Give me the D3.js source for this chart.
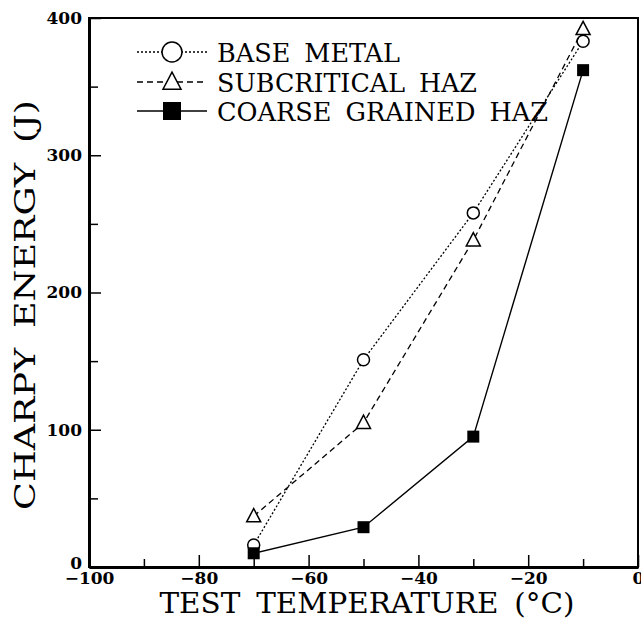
<html>
<head>
<script src="https://d3js.org/d3.v7.min.js"></script>
<style>
  body { margin: 0; background: #fff; }
  text { font-family: "DejaVu Serif", "Liberation Serif", serif; fill: #000; }
</style>
</head>
<body>
<div id="chart"></div>
<script>
// data
const temps = [-70, -50, -30, -10];
const baseMetal = [16, 151, 258, 383];
const subcritical = [37, 105, 238, 392];
const coarseGrained = [10, 29, 95, 362];

const seriesNames = ["BASE METAL", "SUBCRITICAL HAZ", "COARSE GRAINED HAZ"];
const xTicks = [-100, -80, -60, -40, -20, 0];
const xMinor = [-90, -70, -50, -30, -10];
const yTicks = [0, 100, 200, 300, 400];
const yMinor = [50, 150, 250, 350];

const W = 641, H = 620;
const plotLeft = 89, plotRight = 638, plotTop = 18, plotBottom = 567;

const svg = d3.select("#chart").append("svg")
  .attr("width", W).attr("height", H);

const x = d3.scaleLinear().domain([-100, 0]).range([plotLeft, plotRight]);
const y = d3.scaleLinear().domain([0, 400]).range([plotBottom, plotTop]);

// frame
svg.append("rect")
  .attr("x", plotLeft).attr("y", plotTop)
  .attr("width", plotRight - plotLeft).attr("height", plotBottom - plotTop)
  .attr("fill", "none").attr("stroke", "#000").attr("stroke-width", 2);

// x axis, ticks pointing inward
const xAxis = svg.append("g").attr("transform", `translate(0,${plotBottom})`)
  .call(d3.axisBottom(x).tickValues(xTicks).tickSizeInner(-12).tickSizeOuter(0)
    .tickFormat(d => d < 0 ? "\u2212" + (-d) : d));
xAxis.select(".domain").attr("stroke-width", 3);
xAxis.selectAll(".tick line").attr("stroke-width", 1.5);
xAxis.selectAll(".tick text")
  .attr("y", 5).attr("dy", "0.71em")
  .style("font-size", "17px").style("font-weight", "bold")
  .style("font-family", "DejaVu Serif");

svg.append("g").attr("transform", `translate(0,${plotBottom})`)
  .call(d3.axisBottom(x).tickValues(xMinor).tickSizeInner(-8).tickSizeOuter(0).tickFormat(""))
  .call(g => g.select(".domain").remove())
  .selectAll("line").attr("stroke-width", 1.5);

// y axis
const yAxis = svg.append("g").attr("transform", `translate(${plotLeft},0)`)
  .call(d3.axisLeft(y).tickValues(yTicks).tickSizeInner(-12).tickSizeOuter(0));
yAxis.select(".domain").attr("stroke-width", 3);
yAxis.selectAll(".tick line").attr("stroke-width", 1.5);
yAxis.selectAll(".tick text")
  .attr("x", -7)
  .style("font-size", "17px").style("font-weight", "bold")
  .style("font-family", "DejaVu Serif");
// the "0" sits a little high, as in the figure
yAxis.selectAll(".tick text").filter(d => d === 0).attr("dy", "0.1em");

svg.append("g").attr("transform", `translate(${plotLeft},0)`)
  .call(d3.axisLeft(y).tickValues(yMinor).tickSizeInner(-9).tickSizeOuter(0).tickFormat(""))
  .call(g => g.select(".domain").remove())
  .selectAll("line").attr("stroke-width", 1.5);

// axis titles
svg.append("text")
  .attr("x", 367).attr("y", 613)
  .attr("text-anchor", "middle")
  .attr("textLength", 415).attr("lengthAdjust", "spacingAndGlyphs")
  .style("font-size", "27px").style("word-spacing", "6px")
  .text("TEST TEMPERATURE (\u00B0C)");

svg.append("text")
  .attr("transform", "translate(35,305) rotate(-90)")
  .attr("text-anchor", "middle")
  .attr("textLength", 410).attr("lengthAdjust", "spacingAndGlyphs")
  .style("font-size", "27px").style("word-spacing", "6px")
  .text("CHARPY ENERGY (J)");

// series
const series = [
  { name: seriesNames[0], values: baseMetal, dash: "2,2", shape: "circle" },
  { name: seriesNames[1], values: subcritical, dash: "6,4", shape: "triangle" },
  { name: seriesNames[2], values: coarseGrained, dash: null, shape: "square" }
];

const line = d3.line().x(d => x(d[0])).y(d => y(d[1]));

function marker(g, shape, size) {
  if (shape === "circle") {
    g.append("circle").attr("r", size / 2)
      .attr("fill", "#fff").attr("stroke", "#000").attr("stroke-width", 1.5);
  } else if (shape === "triangle") {
    const s = size;
    g.append("path")
      .attr("d", `M0,${-s * 0.55} L${s / 2},${s * 0.4} L${-s / 2},${s * 0.4} Z`)
      .attr("fill", "#fff").attr("stroke", "#000").attr("stroke-width", 1.5);
  } else {
    g.append("rect").attr("x", -size / 2).attr("y", -size / 2)
      .attr("width", size).attr("height", size).attr("fill", "#000");
  }
}

series.forEach(s => {
  const pts = temps.map((t, i) => [t, s.values[i]]);
  svg.append("path")
    .attr("d", line(pts))
    .attr("fill", "none").attr("stroke", "#000")
    .attr("stroke-width", s.dash ? 1.3 : 1.4)
    .attr("stroke-dasharray", s.dash);
  pts.forEach(p => {
    const g = svg.append("g").attr("transform", `translate(${x(p[0])},${y(p[1])})`);
    marker(g, s.shape, s.shape === "triangle" ? 14 : 12);
  });
});

// legend
const legendRows = [52, 82, 111];
const legendLens = [183, 260, 331];
series.forEach((s, i) => {
  const ly = legendRows[i];
  svg.append("line")
    .attr("x1", 137).attr("x2", 207).attr("y1", ly).attr("y2", ly)
    .attr("stroke", "#000").attr("stroke-width", 1.3)
    .attr("stroke-dasharray", s.dash);
  const g = svg.append("g").attr("transform", `translate(172,${ly})`);
  marker(g, s.shape, s.shape === "circle" ? 20 : 18);
  svg.append("text")
    .attr("x", 217).attr("y", ly + 10)
    .attr("textLength", legendLens[i]).attr("lengthAdjust", "spacingAndGlyphs")
    .style("font-size", "26px").style("word-spacing", "6px")
    .text(s.name);
});
</script>
</body>
</html>
